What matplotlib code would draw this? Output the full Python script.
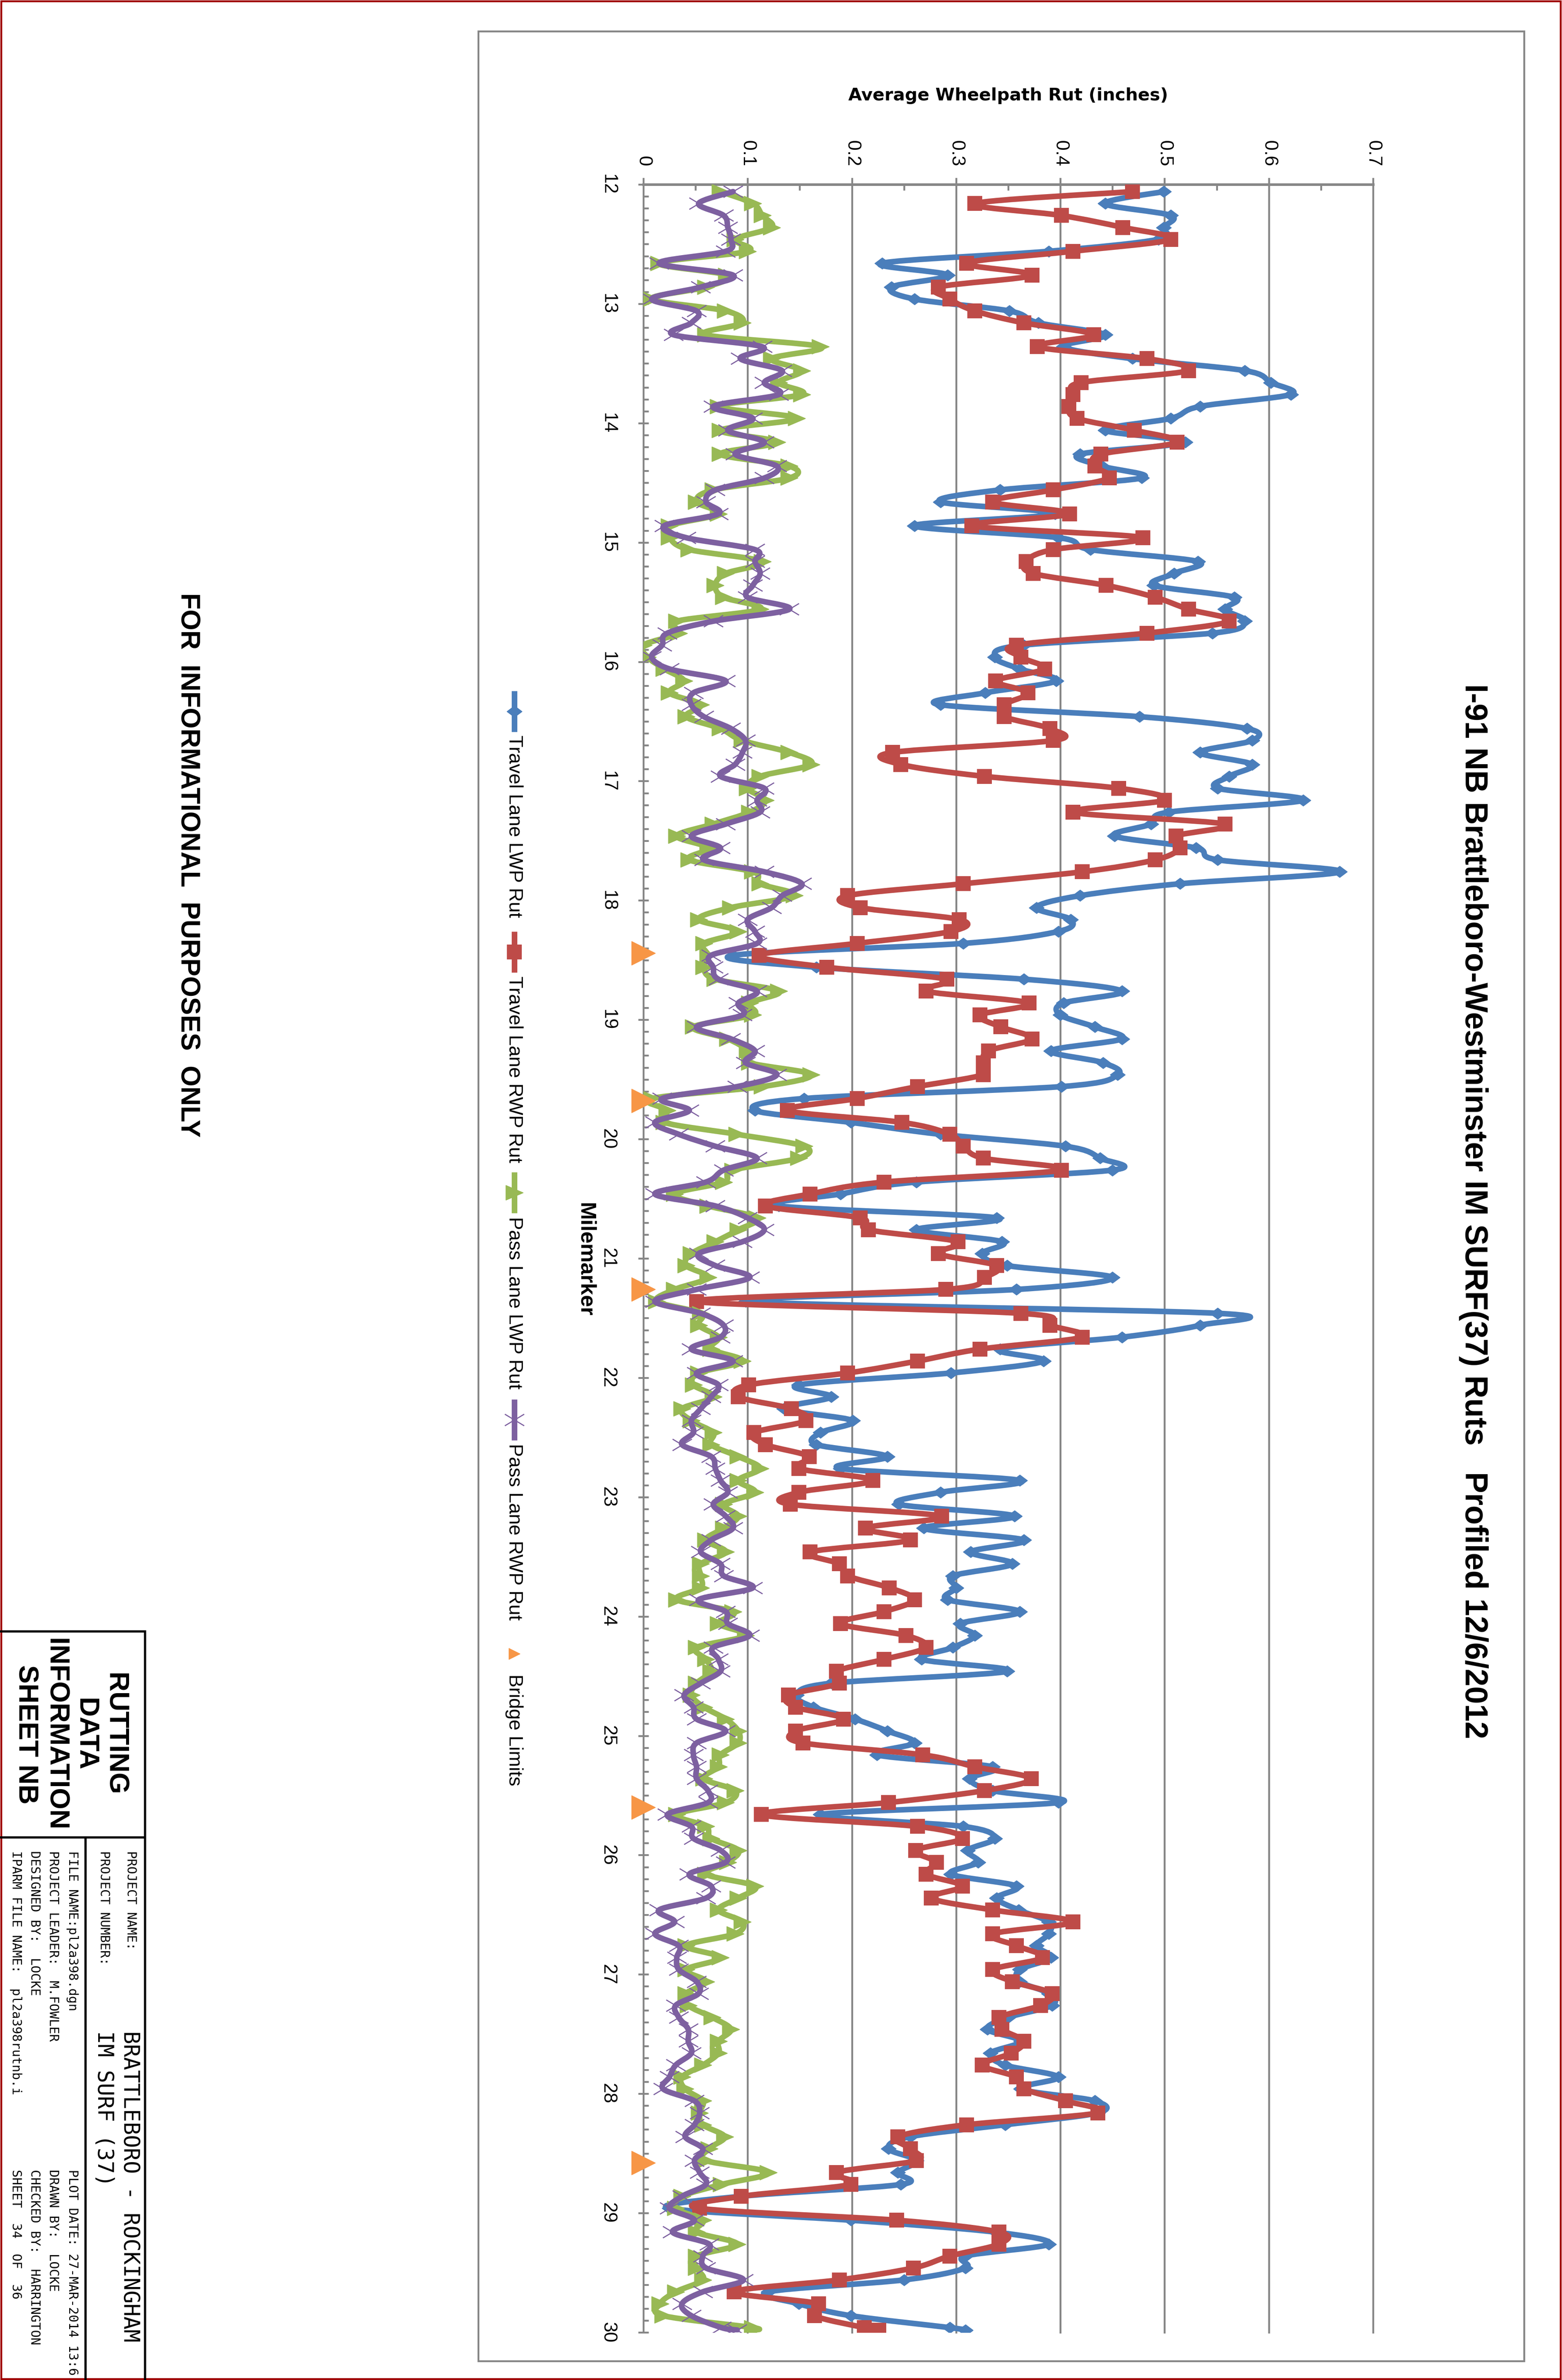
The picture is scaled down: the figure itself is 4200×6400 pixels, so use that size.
import numpy as np
import matplotlib
matplotlib.use("Agg")
import matplotlib.pyplot as plt
from matplotlib.path import Path
from matplotlib.patches import PathPatch, Rectangle
from matplotlib.lines import Line2D

# ---- data ----
MILES = [
    12.06, 12.16, 12.26, 12.36, 12.46, 12.56, 12.66, 12.76, 12.86, 12.96,
    13.06, 13.16, 13.26, 13.36, 13.46, 13.56, 13.66, 13.76, 13.86, 13.96,
    14.06, 14.16, 14.26, 14.36, 14.46, 14.56, 14.66, 14.76, 14.86, 14.96,
    15.06, 15.16, 15.26, 15.36, 15.46, 15.56, 15.66, 15.76, 15.86, 15.96,
    16.06, 16.16, 16.26, 16.36, 16.46, 16.56, 16.66, 16.76, 16.86, 16.96,
    17.06, 17.16, 17.26, 17.36, 17.46, 17.56, 17.66, 17.76, 17.86, 17.96,
    18.06, 18.16, 18.26, 18.36, 18.46, 18.56, 18.66, 18.76, 18.86, 18.96,
    19.06, 19.16, 19.26, 19.36, 19.46, 19.56, 19.66, 19.76, 19.86, 19.96,
    20.06, 20.16, 20.26, 20.36, 20.46, 20.56, 20.66, 20.76, 20.86, 20.96,
    21.06, 21.16, 21.26, 21.36, 21.46, 21.56, 21.66, 21.76, 21.86, 21.96,
    22.06, 22.16, 22.26, 22.36, 22.46, 22.56, 22.66, 22.76, 22.86, 22.96,
    23.06, 23.16, 23.26, 23.36, 23.46, 23.56, 23.66, 23.76, 23.86, 23.96,
    24.06, 24.16, 24.26, 24.36, 24.46, 24.56, 24.66, 24.76, 24.86, 24.96,
    25.06, 25.16, 25.26, 25.36, 25.46, 25.56, 25.66, 25.76, 25.86, 25.96,
    26.06, 26.16, 26.26, 26.36, 26.46, 26.56, 26.66, 26.76, 26.86, 26.96,
    27.06, 27.16, 27.26, 27.36, 27.46, 27.56, 27.66, 27.76, 27.86, 27.96,
    28.06, 28.16, 28.26, 28.36, 28.46, 28.56, 28.66, 28.76, 28.86, 28.96,
    29.06, 29.16, 29.26, 29.36, 29.46, 29.56, 29.66, 29.76, 29.86, 29.96,
    29.98,
]

TRAVEL_LWP = [
    0.499, 0.443, 0.506, 0.499, 0.494, 0.389, 0.229, 0.292, 0.238, 0.260,
    0.351, 0.379, 0.443, 0.403, 0.469, 0.577, 0.602, 0.621, 0.534, 0.506,
    0.443, 0.520, 0.419, 0.440, 0.478, 0.342, 0.285, 0.395, 0.260, 0.398,
    0.429, 0.532, 0.509, 0.490, 0.567, 0.558, 0.577, 0.546, 0.365, 0.337,
    0.361, 0.396, 0.328, 0.285, 0.476, 0.579, 0.584, 0.534, 0.584, 0.562,
    0.551, 0.633, 0.504, 0.487, 0.452, 0.530, 0.551, 0.668, 0.515, 0.419,
    0.377, 0.410, 0.398, 0.307, 0.086, 0.166, 0.365, 0.459, 0.403, 0.400,
    0.433, 0.459, 0.391, 0.441, 0.455, 0.401, 0.154, 0.107, 0.199, 0.285,
    0.405, 0.438, 0.450, 0.262, 0.189, 0.130, 0.339, 0.262, 0.344, 0.325,
    0.349, 0.450, 0.358, 0.098, 0.551, 0.534, 0.459, 0.342, 0.384, 0.295,
    0.149, 0.180, 0.135, 0.201, 0.170, 0.166, 0.234, 0.189, 0.361, 0.285,
    0.245, 0.356, 0.269, 0.365, 0.314, 0.354, 0.297, 0.300, 0.292, 0.361,
    0.304, 0.318, 0.297, 0.267, 0.349, 0.180, 0.147, 0.163, 0.203, 0.234,
    0.260, 0.224, 0.335, 0.313, 0.335, 0.398, 0.170, 0.307, 0.337, 0.311,
    0.321, 0.295, 0.358, 0.339, 0.360, 0.389, 0.389, 0.377, 0.391, 0.361,
    0.361, 0.389, 0.392, 0.350, 0.330, 0.362, 0.333, 0.347, 0.398, 0.362,
    0.433, 0.436, 0.347, 0.256, 0.235, 0.262, 0.244, 0.247, 0.093, 0.025,
    0.199, 0.338, 0.389, 0.309, 0.309, 0.250, 0.120, 0.149, 0.199, 0.294,
    0.309,
]

TRAVEL_RWP = [
    0.469, 0.318, 0.401, 0.460, 0.506, 0.412, 0.310, 0.373, 0.283, 0.294,
    0.318, 0.365, 0.432, 0.378, 0.483, 0.523, 0.420, 0.412, 0.408, 0.416,
    0.471, 0.512, 0.439, 0.433, 0.447, 0.393, 0.335, 0.409, 0.315, 0.479,
    0.393, 0.367, 0.374, 0.444, 0.491, 0.523, 0.562, 0.483, 0.358, 0.362,
    0.385, 0.338, 0.369, 0.346, 0.346, 0.390, 0.393, 0.239, 0.247, 0.327,
    0.456, 0.500, 0.412, 0.558, 0.511, 0.515, 0.491, 0.421, 0.307, 0.196,
    0.208, 0.303, 0.295, 0.205, 0.111, 0.176, 0.291, 0.271, 0.370, 0.323,
    0.343, 0.373, 0.331, 0.326, 0.326, 0.263, 0.205, 0.138, 0.248, 0.294,
    0.307, 0.326, 0.401, 0.231, 0.160, 0.117, 0.208, 0.216, 0.302, 0.283,
    0.339, 0.327, 0.290, 0.051, 0.362, 0.390, 0.421, 0.323, 0.263, 0.196,
    0.101, 0.091, 0.142, 0.156, 0.106, 0.117, 0.159, 0.149, 0.220, 0.149,
    0.141, 0.286, 0.213, 0.256, 0.160, 0.188, 0.196, 0.236, 0.260, 0.231,
    0.189, 0.252, 0.271, 0.231, 0.185, 0.188, 0.139, 0.146, 0.192, 0.146,
    0.153, 0.268, 0.318, 0.372, 0.327, 0.235, 0.113, 0.263, 0.306, 0.261,
    0.281, 0.271, 0.306, 0.276, 0.335, 0.412, 0.335, 0.358, 0.383, 0.335,
    0.354, 0.392, 0.381, 0.341, 0.344, 0.365, 0.353, 0.325, 0.358, 0.365,
    0.405, 0.436, 0.310, 0.244, 0.256, 0.262, 0.185, 0.199, 0.094, 0.054,
    0.243, 0.341, 0.341, 0.294, 0.259, 0.188, 0.087, 0.168, 0.164, 0.212,
    0.226,
]

PASS_LWP = [
    0.074, 0.105, 0.114, 0.123, 0.088, 0.100, 0.015, 0.080, 0.060, 0.008,
    0.079, 0.095, 0.060, 0.170, 0.123, 0.152, 0.130, 0.152, 0.072, 0.147,
    0.074, 0.128, 0.074, 0.140, 0.140, 0.067, 0.051, 0.072, 0.025, 0.025,
    0.044, 0.114, 0.079, 0.069, 0.077, 0.112, 0.032, 0.034, 0.000, 0.004,
    0.020, 0.039, 0.025, 0.055, 0.041, 0.074, 0.095, 0.140, 0.161, 0.112,
    0.100, 0.117, 0.102, 0.067, 0.032, 0.062, 0.044, 0.105, 0.112, 0.145,
    0.084, 0.053, 0.091, 0.058, 0.062, 0.058, 0.069, 0.130, 0.102, 0.105,
    0.048, 0.081, 0.100, 0.102, 0.161, 0.114, 0.008, 0.023, 0.020, 0.090,
    0.154, 0.149, 0.086, 0.077, 0.030, 0.062, 0.109, 0.091, 0.069, 0.046,
    0.041, 0.062, 0.030, 0.013, 0.055, 0.053, 0.072, 0.065, 0.095, 0.053,
    0.048, 0.067, 0.037, 0.046, 0.067, 0.065, 0.091, 0.112, 0.091, 0.107,
    0.077, 0.091, 0.077, 0.060, 0.079, 0.055, 0.055, 0.055, 0.032, 0.086,
    0.072, 0.098, 0.051, 0.060, 0.065, 0.051, 0.046, 0.058, 0.079, 0.091,
    0.091, 0.074, 0.072, 0.058, 0.088, 0.079, 0.032, 0.060, 0.065, 0.091,
    0.081, 0.060, 0.107, 0.091, 0.072, 0.095, 0.088, 0.041, 0.074, 0.041,
    0.060, 0.041, 0.043, 0.066, 0.084, 0.072, 0.072, 0.057, 0.037, 0.040,
    0.057, 0.054, 0.057, 0.078, 0.063, 0.060, 0.120, 0.075, 0.037, 0.031,
    0.057, 0.051, 0.090, 0.051, 0.051, 0.057, 0.031, 0.016, 0.019, 0.105,
    0.105,
]

PASS_RWP = [
    0.086, 0.053, 0.077, 0.081, 0.084, 0.079, 0.015, 0.086, 0.055, 0.008,
    0.051, 0.046, 0.029, 0.114, 0.093, 0.133, 0.116, 0.130, 0.067, 0.105,
    0.081, 0.116, 0.088, 0.128, 0.116, 0.069, 0.060, 0.072, 0.020, 0.041,
    0.107, 0.107, 0.112, 0.105, 0.100, 0.140, 0.067, 0.023, 0.018, 0.008,
    0.025, 0.079, 0.048, 0.046, 0.058, 0.084, 0.098, 0.095, 0.088, 0.074,
    0.116, 0.109, 0.112, 0.079, 0.046, 0.074, 0.058, 0.116, 0.152, 0.133,
    0.123, 0.100, 0.107, 0.109, 0.065, 0.067, 0.072, 0.109, 0.091, 0.095,
    0.051, 0.084, 0.107, 0.098, 0.128, 0.090, 0.018, 0.044, 0.011, 0.034,
    0.069, 0.109, 0.077, 0.060, 0.011, 0.069, 0.100, 0.116, 0.095, 0.053,
    0.069, 0.102, 0.051, 0.011, 0.055, 0.077, 0.074, 0.046, 0.086, 0.051,
    0.072, 0.065, 0.055, 0.046, 0.048, 0.037, 0.065, 0.069, 0.074, 0.081,
    0.067, 0.079, 0.086, 0.065, 0.055, 0.074, 0.077, 0.105, 0.053, 0.079,
    0.081, 0.102, 0.067, 0.072, 0.074, 0.055, 0.039, 0.048, 0.051, 0.079,
    0.051, 0.048, 0.051, 0.051, 0.062, 0.062, 0.023, 0.046, 0.048, 0.074,
    0.079, 0.044, 0.065, 0.060, 0.015, 0.030, 0.011, 0.034, 0.032, 0.034,
    0.051, 0.053, 0.031, 0.034, 0.043, 0.043, 0.046, 0.031, 0.025, 0.019,
    0.049, 0.054, 0.049, 0.040, 0.057, 0.049, 0.054, 0.060, 0.037, 0.025,
    0.049, 0.028, 0.063, 0.057, 0.060, 0.096, 0.057, 0.037, 0.046, 0.075,
    0.090,
]

BRIDGE_MILES = [18.44, 19.68, 21.26, 25.60, 28.58]
BRIDGE_RUT = [0, 0, 0, 0, 0]

SERIES_NAMES = ["Travel Lane LWP Rut", "Travel Lane RWP Rut",
                "Pass Lane LWP Rut", "Pass Lane RWP Rut", "Bridge Limits"]
RUT_TICKS = [0, 0.1, 0.2, 0.3, 0.4, 0.5, 0.6, 0.7]
RUT_LABELS = ["0", "0.1", "0.2", "0.3", "0.4", "0.5", "0.6", "0.7"]
RUT_MINOR = [0.05, 0.15, 0.25, 0.35, 0.45, 0.55, 0.65]
MILE_TICKS = list(range(12, 31))
MILE_LABELS = [str(m) for m in MILE_TICKS]

TITLE = "I-91 NB Brattleboro-Westminster IM SURF(37) Ruts   Profiled 12/6/2012"

# ---- page setup ----
W, H, DPI = 4200, 6400, 100
NARROW = ["Liberation Sans Narrow", "Liberation Sans", "DejaVu Sans"]
MONO = ["DejaVu Sans Mono", "Liberation Mono"]
plt.rcParams["font.family"] = NARROW


def fx(px):
    return px / W


def fy(py):
    return 1 - py / H


def pt(px):
    return px * 72.0 / DPI


GRAY = "#878787"
BLUE, RED, GREEN, PURPLE, ORANGE = "#4A7EBB", "#BE4B48", "#98B954", "#7D60A0", "#F79646"

diamond = Path([(0, 0.75), (1, 0), (0, -0.75), (-1, 0), (0, 0.75)],
               [Path.MOVETO, Path.LINETO, Path.LINETO, Path.LINETO, Path.CLOSEPOLY])
tri = Path([(1, 0), (-1, 0.85), (-1, -0.85), (1, 0)],
           [Path.MOVETO, Path.LINETO, Path.LINETO, Path.CLOSEPOLY])
cross = Path([(-1, -0.6), (1, 0.6), (-1, 0.6), (1, -0.6)],
             [Path.MOVETO, Path.LINETO, Path.MOVETO, Path.LINETO])

STYLES = [
    dict(color=BLUE, marker=diamond, ms=pt(40), mew=pt(2)),
    dict(color=RED, marker="s", ms=pt(38), mew=pt(2)),
    dict(color=GREEN, marker=tri, ms=pt(46), mew=pt(2)),
    dict(color=PURPLE, marker=cross, ms=pt(52), mew=pt(3), mfc="none"),
]
LW = pt(15)


def smooth_path(xs, ys):
    # excel style smoothed line: catmull-rom turned into bezier segments
    p = np.column_stack([xs, ys]).astype(float)
    n = len(p)
    verts, codes = [p[0]], [Path.MOVETO]
    for i in range(n - 1):
        p0 = p[i - 1] if i > 0 else p[i]
        p3 = p[i + 2] if i + 2 < n else p[i + 1]
        c1 = p[i] + (p[i + 1] - p0) / 6.0
        c2 = p[i + 1] - (p3 - p[i]) / 6.0
        verts += [c1, c2, p[i + 1]]
        codes += [Path.CURVE4] * 3
    return Path(verts, codes)


fig = plt.figure(figsize=(W / DPI, H / DPI), dpi=DPI)
fig.patch.set_facecolor("white")

# plot area: rut runs left->right, milemarker runs top->bottom
ax = fig.add_axes([fx(1730), fy(6272), fx(3692) - fx(1730), fy(496) - fy(6272)])
ax.set_facecolor("none")
ax.set_xlim(0, 0.7)
ax.set_ylim(30, 12)

series = [TRAVEL_LWP, TRAVEL_RWP, PASS_LWP, PASS_RWP]
for i, (vals, st) in enumerate(zip(series, STYLES)):
    z = 3 + 2 * i
    ax.add_patch(PathPatch(smooth_path(vals, MILES), facecolor="none",
                           edgecolor=st["color"], lw=LW, zorder=z,
                           capstyle="round", joinstyle="round"))
    ax.plot(vals, MILES, linestyle="none", marker=st["marker"], ms=st["ms"],
            color=st["color"], mec=st["color"], mew=st["mew"],
            mfc=st.get("mfc", st["color"]), zorder=z + 1)

ax.plot(BRIDGE_RUT, BRIDGE_MILES, linestyle="none", marker=">", ms=pt(64),
        color=ORANGE, mec=ORANGE, zorder=20, clip_on=False)

# axes styling
for s in ["right", "bottom"]:
    ax.spines[s].set_visible(False)
ax.spines["top"].set_color(GRAY)
ax.spines["top"].set_linewidth(pt(7))
ax.spines["left"].set_color(GRAY)
ax.spines["left"].set_linewidth(pt(5))

ax.xaxis.tick_top()
ax.set_xticks(RUT_TICKS)
ax.set_xticklabels(RUT_LABELS)
ax.set_xticks(RUT_MINOR, minor=True)
ax.tick_params(axis="x", which="major", direction="out", length=pt(18),
               width=pt(5), color=GRAY, pad=pt(30), labelsize=pt(50),
               labelrotation=-90)
ax.tick_params(axis="x", which="minor", direction="in", length=pt(16),
               width=pt(5), color=GRAY)
ax.xaxis.grid(True, which="major", color=GRAY, lw=pt(5))
for t in ax.xaxis.get_major_ticks():
    t.gridline.set_clip_on(False)

ax.set_yticks(MILE_TICKS)
ax.set_yticklabels(MILE_LABELS)
ax.yaxis.set_minor_locator(matplotlib.ticker.MultipleLocator(0.1))
ax.tick_params(axis="y", which="major", direction="inout", length=pt(28),
               width=pt(5), color=GRAY, pad=pt(58), labelsize=pt(50),
               labelrotation=-90)
ax.tick_params(axis="y", which="minor", direction="in", length=pt(14),
               width=pt(5), color=GRAY)
for lab in ax.get_yticklabels():
    lab.set_va("center")
ax.set_axisbelow(True)

# chart texts
fig.text(fx(2711), fy(257), "Average Wheelpath Rut (inches)", ha="center",
         va="center", fontsize=pt(47), weight="bold", family=["DejaVu Sans"])
fig.text(fx(3962), fy(1839), TITLE, rotation=-90, ha="center", va="top",
         fontsize=pt(85), weight="bold")
fig.text(fx(1574), fy(3387), "Milemarker", rotation=-90, ha="center",
         va="center", fontsize=pt(58), weight="bold",
         family=["Liberation Sans", "DejaVu Sans"])

# legend, laid out by hand because it is rotated
LEG_X = 1383
LEG_MARK_Y = [1913, 2560, 3207, 3818, 4437]
LEG_TEXT_Y = [1977, 2625, 3272, 3882, 4502]
for i, name in enumerate(SERIES_NAMES):
    cy = LEG_MARK_Y[i]
    if i < 4:
        st = STYLES[i]
        fig.add_artist(Line2D([fx(LEG_X), fx(LEG_X)], [fy(cy - 55), fy(cy + 55)],
                              color=st["color"], lw=LW, solid_capstyle="butt"))
        fig.add_artist(Line2D([fx(LEG_X)], [fy(cy)], linestyle="none",
                              marker=st["marker"], ms=st["ms"], color=st["color"],
                              mec=st["color"], mew=st["mew"],
                              mfc=st.get("mfc", st["color"])))
    else:
        fig.add_artist(Line2D([fx(LEG_X)], [fy(cy + 10)], linestyle="none",
                              marker=">", ms=pt(30), color=ORANGE, mec=ORANGE))
    fig.text(fx(LEG_X), fy(LEG_TEXT_Y[i]), name, rotation=-90, ha="center",
             va="top", fontsize=pt(52))

# chart area frame and page frame
fig.add_artist(Rectangle((fx(1286), fy(6349)), fx(4098) - fx(1286),
                         fy(84) - fy(6349), transform=fig.transFigure,
                         fill=False, edgecolor=GRAY, lw=pt(5)))
fig.add_artist(Rectangle((fx(3), fy(6397)), fx(4196) - fx(3), fy(3) - fy(6397),
                         transform=fig.transFigure, fill=False,
                         edgecolor="#A00000", lw=pt(5)))

fig.text(fx(506), fy(2326), "FOR  INFORMATIONAL  PURPOSES  ONLY", rotation=-90,
         ha="center", va="center", fontsize=pt(72), weight="bold")

# title block
for xs, ys in [([0, 390], [4387, 4387]), ([390, 390], [4387, 6400]),
               ([0, 390], [4941, 4941]), ([230, 230], [4941, 6400])]:
    fig.add_artist(Line2D([fx(v) for v in xs], [fy(v) for v in ys],
                          color="black", lw=pt(6)))

fig.text(fx(190), fy(4664), "RUTTING\nDATA\nINFORMATION\nSHEET NB", rotation=-90,
         ha="center", va="center", multialignment="center", fontsize=pt(74),
         weight="bold", linespacing=1.2)

small = pt(34)
big = pt(58)
block = [
    (352, 4977, "PROJECT NAME:", small),
    (280, 4977, "PROJECT NUMBER:", small),
    (349, 5461, "BRATTLEBORO - ROCKINGHAM", big),
    (280, 5461, "IM SURF (37)", big),
    (194, 4977, "FILE NAME:pl2a398.dgn", small),
    (142, 4977, "PROJECT LEADER:  M.FOWLER", small),
    (92, 4977, "DESIGNED BY:  LOCKE", small),
    (42, 4977, "IPARM FILE NAME:  pl2a398rutnb.i", small),
    (194, 5834, "PLOT DATE: 27-MAR-2014 13:6", small),
    (142, 5834, "DRAWN BY:  LOCKE", small),
    (92, 5834, "CHECKED BY:  HARRINGTON", small),
    (42, 5834, "SHEET  34  OF  36", small),
]
for x, y, s, fs in block:
    fig.text(fx(x), fy(y), s, rotation=-90, ha="center", va="top", fontsize=fs,
             family=MONO)

fig.savefig("out.png", dpi=DPI, facecolor="white")
